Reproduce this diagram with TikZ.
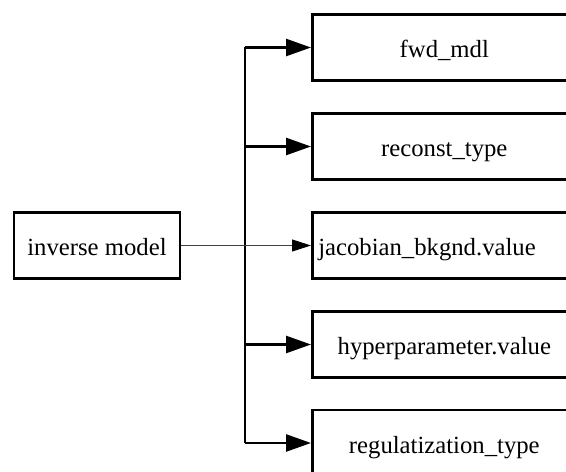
\documentclass[tikz,border=0pt]{standalone}
\usepackage{fontspec}
\setmainfont{Liberation Serif}
\usetikzlibrary{arrows.meta}

\tikzset{
  box/.style={draw, line width=2.6pt, minimum height=66pt, inner sep=0pt,
              text height=21pt, text depth=0pt,
              font=\fontsize{24.7}{29}\selectfont},
  leaf/.style={box, minimum width=264pt, anchor=west},
  bigarrow/.style={line width=2.6pt, -{Triangle[length=25pt,width=17pt]}},
  thinarrow/.style={line width=0.9pt, draw=black!75, -{Triangle[length=19pt,width=12pt,fill=black,color=black]}},
  bus/.style={line width=2.6pt}
}

\begin{document}
\begin{tikzpicture}[x=1pt,y=1pt]
  \useasboundingbox (0,0) rectangle (566,472);
  \clip (0,0) rectangle (566,472);

  % root of the tree
  \node[box, minimum width=166pt] (inv) at (97,226.5) {inverse model};

  % children
  \node[leaf] (fwd)  at (311,424.5) {fwd\_mdl};
  \node[leaf] (rec)  at (311,325.5) {reconst\_type};
  \node[leaf, text width=252pt, align=left, inner xsep=6pt] (jac) at (311,226.5) {jacobian\_bkgnd.value};
  \node[leaf] (hyp)  at (311,127.5) {hyperparameter.value};
  \node[leaf] (reg)  at (311,29)    {regulatization\_type};

  % vertical bus
  \coordinate (busx) at (245,0);
  \draw[bus] (busx |- fwd.west) -- (busx |- reg.west);

  % branches
  \draw[bigarrow] (busx |- fwd.west) -- (fwd.west);
  \draw[bigarrow] (busx |- rec.west) -- (rec.west);
  \draw[bigarrow] (busx |- hyp.west) -- (hyp.west);
  \draw[bigarrow] (busx |- reg.west) -- (reg.west);

  % direct link
  \draw[thinarrow] (inv.east) -- (jac.west);
\end{tikzpicture}
\end{document}
